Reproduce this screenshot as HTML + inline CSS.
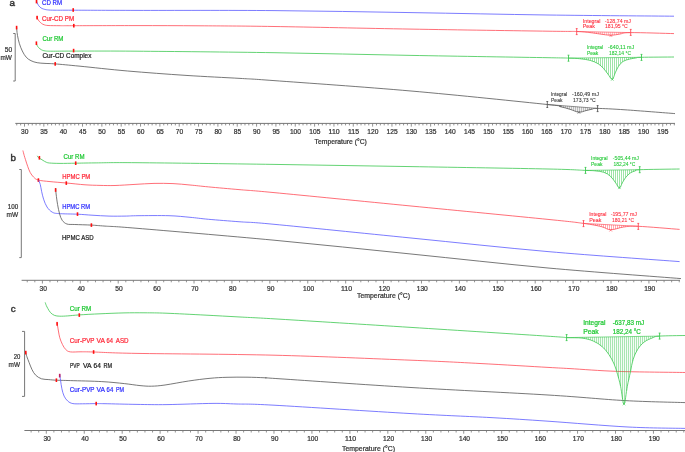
<!DOCTYPE html>
<html><head><meta charset="utf-8"><title>DSC thermograms</title>
<style>
html,body{margin:0;padding:0;background:#fff;}
body{width:685px;height:452px;overflow:hidden;}
svg{display:block;font-family:"Liberation Sans", sans-serif;will-change:transform;}
</style></head>
<body>
<svg width="685" height="452" viewBox="0 0 685 452">
<rect width="685" height="452" fill="#fff"/>
<text x="9.6" y="6.4" font-size="9.8" fill="#333" text-anchor="start" font-weight="normal" stroke="#333" stroke-width="0.45">a</text>
<path d="M13.2,33.5H15.2V81H13.2" stroke="#777" stroke-width="1" fill="none"/>
<text x="12.2" y="52.2" font-size="6.8" fill="#333" text-anchor="end" font-weight="normal" textLength="7.4" lengthAdjust="spacingAndGlyphs" stroke="#333" stroke-width="0.22">50</text>
<text x="11.8" y="60.2" font-size="6.8" fill="#333" text-anchor="end" font-weight="normal" textLength="11.4" lengthAdjust="spacingAndGlyphs" stroke="#333" stroke-width="0.22">mW</text>
<line x1="15.3" y1="123.4" x2="675" y2="123.4" stroke="#777" stroke-width="1"/>
<path d="M16.76,123.4v2 M20.63,123.4v2 M24.5,123.4v3.2 M28.37,123.4v2 M32.24,123.4v2 M36.1,123.4v2 M39.97,123.4v2 M43.84,123.4v3.2 M47.71,123.4v2 M51.58,123.4v2 M55.44,123.4v2 M59.31,123.4v2 M63.18,123.4v3.2 M67.05,123.4v2 M70.92,123.4v2 M74.78,123.4v2 M78.65,123.4v2 M82.52,123.4v3.2 M86.39,123.4v2 M90.26,123.4v2 M94.12,123.4v2 M97.99,123.4v2 M101.86,123.4v3.2 M105.73,123.4v2 M109.6,123.4v2 M113.46,123.4v2 M117.33,123.4v2 M121.2,123.4v3.2 M125.07,123.4v2 M128.94,123.4v2 M132.8,123.4v2 M136.67,123.4v2 M140.54,123.4v3.2 M144.41,123.4v2 M148.28,123.4v2 M152.14,123.4v2 M156.01,123.4v2 M159.88,123.4v3.2 M163.75,123.4v2 M167.62,123.4v2 M171.48,123.4v2 M175.35,123.4v2 M179.22,123.4v3.2 M183.09,123.4v2 M186.96,123.4v2 M190.82,123.4v2 M194.69,123.4v2 M198.56,123.4v3.2 M202.43,123.4v2 M206.3,123.4v2 M210.16,123.4v2 M214.03,123.4v2 M217.9,123.4v3.2 M221.77,123.4v2 M225.64,123.4v2 M229.5,123.4v2 M233.37,123.4v2 M237.24,123.4v3.2 M241.11,123.4v2 M244.98,123.4v2 M248.84,123.4v2 M252.71,123.4v2 M256.58,123.4v3.2 M260.45,123.4v2 M264.32,123.4v2 M268.18,123.4v2 M272.05,123.4v2 M275.92,123.4v3.2 M279.79,123.4v2 M283.66,123.4v2 M287.52,123.4v2 M291.39,123.4v2 M295.26,123.4v3.2 M299.13,123.4v2 M303,123.4v2 M306.86,123.4v2 M310.73,123.4v2 M314.6,123.4v3.2 M318.47,123.4v2 M322.34,123.4v2 M326.2,123.4v2 M330.07,123.4v2 M333.94,123.4v3.2 M337.81,123.4v2 M341.68,123.4v2 M345.54,123.4v2 M349.41,123.4v2 M353.28,123.4v3.2 M357.15,123.4v2 M361.02,123.4v2 M364.88,123.4v2 M368.75,123.4v2 M372.62,123.4v3.2 M376.49,123.4v2 M380.36,123.4v2 M384.22,123.4v2 M388.09,123.4v2 M391.96,123.4v3.2 M395.83,123.4v2 M399.7,123.4v2 M403.56,123.4v2 M407.43,123.4v2 M411.3,123.4v3.2 M415.17,123.4v2 M419.04,123.4v2 M422.9,123.4v2 M426.77,123.4v2 M430.64,123.4v3.2 M434.51,123.4v2 M438.38,123.4v2 M442.24,123.4v2 M446.11,123.4v2 M449.98,123.4v3.2 M453.85,123.4v2 M457.72,123.4v2 M461.58,123.4v2 M465.45,123.4v2 M469.32,123.4v3.2 M473.19,123.4v2 M477.06,123.4v2 M480.92,123.4v2 M484.79,123.4v2 M488.66,123.4v3.2 M492.53,123.4v2 M496.4,123.4v2 M500.26,123.4v2 M504.13,123.4v2 M508,123.4v3.2 M511.87,123.4v2 M515.74,123.4v2 M519.6,123.4v2 M523.47,123.4v2 M527.34,123.4v3.2 M531.21,123.4v2 M535.08,123.4v2 M538.94,123.4v2 M542.81,123.4v2 M546.68,123.4v3.2 M550.55,123.4v2 M554.42,123.4v2 M558.28,123.4v2 M562.15,123.4v2 M566.02,123.4v3.2 M569.89,123.4v2 M573.76,123.4v2 M577.62,123.4v2 M581.49,123.4v2 M585.36,123.4v3.2 M589.23,123.4v2 M593.1,123.4v2 M596.96,123.4v2 M600.83,123.4v2 M604.7,123.4v3.2 M608.57,123.4v2 M612.44,123.4v2 M616.3,123.4v2 M620.17,123.4v2 M624.04,123.4v3.2 M627.91,123.4v2 M631.78,123.4v2 M635.64,123.4v2 M639.51,123.4v2 M643.38,123.4v3.2 M647.25,123.4v2 M651.12,123.4v2 M654.98,123.4v2 M658.85,123.4v2 M662.72,123.4v3.2 M666.59,123.4v2 M670.46,123.4v2 M674.32,123.4v2" stroke="#777" stroke-width="0.8" fill="none"/>
<text x="24.7" y="134.2" font-size="6.8" fill="#333" text-anchor="middle" font-weight="normal" textLength="7.4" lengthAdjust="spacingAndGlyphs" stroke="#333" stroke-width="0.22">30</text>
<text x="44.04" y="134.2" font-size="6.8" fill="#333" text-anchor="middle" font-weight="normal" textLength="7.4" lengthAdjust="spacingAndGlyphs" stroke="#333" stroke-width="0.22">35</text>
<text x="63.38" y="134.2" font-size="6.8" fill="#333" text-anchor="middle" font-weight="normal" textLength="7.4" lengthAdjust="spacingAndGlyphs" stroke="#333" stroke-width="0.22">40</text>
<text x="82.72" y="134.2" font-size="6.8" fill="#333" text-anchor="middle" font-weight="normal" textLength="7.4" lengthAdjust="spacingAndGlyphs" stroke="#333" stroke-width="0.22">45</text>
<text x="102.06" y="134.2" font-size="6.8" fill="#333" text-anchor="middle" font-weight="normal" textLength="7.4" lengthAdjust="spacingAndGlyphs" stroke="#333" stroke-width="0.22">50</text>
<text x="121.4" y="134.2" font-size="6.8" fill="#333" text-anchor="middle" font-weight="normal" textLength="7.4" lengthAdjust="spacingAndGlyphs" stroke="#333" stroke-width="0.22">55</text>
<text x="140.74" y="134.2" font-size="6.8" fill="#333" text-anchor="middle" font-weight="normal" textLength="7.4" lengthAdjust="spacingAndGlyphs" stroke="#333" stroke-width="0.22">60</text>
<text x="160.08" y="134.2" font-size="6.8" fill="#333" text-anchor="middle" font-weight="normal" textLength="7.4" lengthAdjust="spacingAndGlyphs" stroke="#333" stroke-width="0.22">65</text>
<text x="179.42" y="134.2" font-size="6.8" fill="#333" text-anchor="middle" font-weight="normal" textLength="7.4" lengthAdjust="spacingAndGlyphs" stroke="#333" stroke-width="0.22">70</text>
<text x="198.76" y="134.2" font-size="6.8" fill="#333" text-anchor="middle" font-weight="normal" textLength="7.4" lengthAdjust="spacingAndGlyphs" stroke="#333" stroke-width="0.22">75</text>
<text x="218.1" y="134.2" font-size="6.8" fill="#333" text-anchor="middle" font-weight="normal" textLength="7.4" lengthAdjust="spacingAndGlyphs" stroke="#333" stroke-width="0.22">80</text>
<text x="237.44" y="134.2" font-size="6.8" fill="#333" text-anchor="middle" font-weight="normal" textLength="7.4" lengthAdjust="spacingAndGlyphs" stroke="#333" stroke-width="0.22">85</text>
<text x="256.78" y="134.2" font-size="6.8" fill="#333" text-anchor="middle" font-weight="normal" textLength="7.4" lengthAdjust="spacingAndGlyphs" stroke="#333" stroke-width="0.22">90</text>
<text x="276.12" y="134.2" font-size="6.8" fill="#333" text-anchor="middle" font-weight="normal" textLength="7.4" lengthAdjust="spacingAndGlyphs" stroke="#333" stroke-width="0.22">95</text>
<text x="295.46" y="134.2" font-size="6.8" fill="#333" text-anchor="middle" font-weight="normal" textLength="11.1" lengthAdjust="spacingAndGlyphs" stroke="#333" stroke-width="0.22">100</text>
<text x="314.8" y="134.2" font-size="6.8" fill="#333" text-anchor="middle" font-weight="normal" textLength="11.1" lengthAdjust="spacingAndGlyphs" stroke="#333" stroke-width="0.22">105</text>
<text x="334.14" y="134.2" font-size="6.8" fill="#333" text-anchor="middle" font-weight="normal" textLength="11.1" lengthAdjust="spacingAndGlyphs" stroke="#333" stroke-width="0.22">110</text>
<text x="353.48" y="134.2" font-size="6.8" fill="#333" text-anchor="middle" font-weight="normal" textLength="11.1" lengthAdjust="spacingAndGlyphs" stroke="#333" stroke-width="0.22">115</text>
<text x="372.82" y="134.2" font-size="6.8" fill="#333" text-anchor="middle" font-weight="normal" textLength="11.1" lengthAdjust="spacingAndGlyphs" stroke="#333" stroke-width="0.22">120</text>
<text x="392.16" y="134.2" font-size="6.8" fill="#333" text-anchor="middle" font-weight="normal" textLength="11.1" lengthAdjust="spacingAndGlyphs" stroke="#333" stroke-width="0.22">125</text>
<text x="411.5" y="134.2" font-size="6.8" fill="#333" text-anchor="middle" font-weight="normal" textLength="11.1" lengthAdjust="spacingAndGlyphs" stroke="#333" stroke-width="0.22">130</text>
<text x="430.84" y="134.2" font-size="6.8" fill="#333" text-anchor="middle" font-weight="normal" textLength="11.1" lengthAdjust="spacingAndGlyphs" stroke="#333" stroke-width="0.22">135</text>
<text x="450.18" y="134.2" font-size="6.8" fill="#333" text-anchor="middle" font-weight="normal" textLength="11.1" lengthAdjust="spacingAndGlyphs" stroke="#333" stroke-width="0.22">140</text>
<text x="469.52" y="134.2" font-size="6.8" fill="#333" text-anchor="middle" font-weight="normal" textLength="11.1" lengthAdjust="spacingAndGlyphs" stroke="#333" stroke-width="0.22">145</text>
<text x="488.86" y="134.2" font-size="6.8" fill="#333" text-anchor="middle" font-weight="normal" textLength="11.1" lengthAdjust="spacingAndGlyphs" stroke="#333" stroke-width="0.22">150</text>
<text x="508.2" y="134.2" font-size="6.8" fill="#333" text-anchor="middle" font-weight="normal" textLength="11.1" lengthAdjust="spacingAndGlyphs" stroke="#333" stroke-width="0.22">155</text>
<text x="527.54" y="134.2" font-size="6.8" fill="#333" text-anchor="middle" font-weight="normal" textLength="11.1" lengthAdjust="spacingAndGlyphs" stroke="#333" stroke-width="0.22">160</text>
<text x="546.88" y="134.2" font-size="6.8" fill="#333" text-anchor="middle" font-weight="normal" textLength="11.1" lengthAdjust="spacingAndGlyphs" stroke="#333" stroke-width="0.22">165</text>
<text x="566.22" y="134.2" font-size="6.8" fill="#333" text-anchor="middle" font-weight="normal" textLength="11.1" lengthAdjust="spacingAndGlyphs" stroke="#333" stroke-width="0.22">170</text>
<text x="585.56" y="134.2" font-size="6.8" fill="#333" text-anchor="middle" font-weight="normal" textLength="11.1" lengthAdjust="spacingAndGlyphs" stroke="#333" stroke-width="0.22">175</text>
<text x="604.9" y="134.2" font-size="6.8" fill="#333" text-anchor="middle" font-weight="normal" textLength="11.1" lengthAdjust="spacingAndGlyphs" stroke="#333" stroke-width="0.22">180</text>
<text x="624.24" y="134.2" font-size="6.8" fill="#333" text-anchor="middle" font-weight="normal" textLength="11.1" lengthAdjust="spacingAndGlyphs" stroke="#333" stroke-width="0.22">185</text>
<text x="643.58" y="134.2" font-size="6.8" fill="#333" text-anchor="middle" font-weight="normal" textLength="11.1" lengthAdjust="spacingAndGlyphs" stroke="#333" stroke-width="0.22">190</text>
<text x="662.92" y="134.2" font-size="6.8" fill="#333" text-anchor="middle" font-weight="normal" textLength="11.1" lengthAdjust="spacingAndGlyphs" stroke="#333" stroke-width="0.22">195</text>
<text x="314.6" y="143.6" font-size="6.9" fill="#333" text-anchor="start" font-weight="normal" textLength="52.3" lengthAdjust="spacingAndGlyphs" stroke="#333" stroke-width="0.22">Temperature (°C)</text>
<path d="M36.5,-1 C36.57,-0.47 36.52,1.07 36.9,2.2 C37.28,3.33 38.12,4.85 38.8,5.8 C39.48,6.75 40.22,7.37 41,7.9 C41.78,8.43 42.42,8.67 43.5,9 C44.58,9.33 45.58,9.7 47.5,9.9 C49.42,10.1 50.75,10.15 55,10.2 C59.25,10.25 59.33,10.17 73,10.2 C86.67,10.23 103.5,10.33 137,10.4 C170.5,10.47 228.33,10.23 274,10.6 C319.67,10.97 365.33,11.87 411,12.6 C456.67,13.33 504.17,14.4 548,15 C591.83,15.6 653,16 674,16.2" fill="none" stroke="#5a5aff" stroke-width="0.8" stroke-opacity="1" stroke-linejoin="round"/>
<rect x="35.7" y="-0.2" width="1.6" height="3.6" fill="#ff1010"/>
<rect x="72.4" y="8.2" width="1.6" height="3.6" fill="#ff1010"/>
<text x="42" y="4.7" font-size="6.6" fill="#2f2fff" text-anchor="start" font-weight="normal" textLength="20" lengthAdjust="spacingAndGlyphs" stroke="#2f2fff" stroke-width="0.22">CD RM</text>
<path d="M588.7,31.74V32.45 M590.7,31.79V32.68 M592.7,31.83V32.93 M594.7,31.87V33.22 M596.7,31.91V33.53 M598.7,31.95V33.82 M600.7,31.99V34.09 M602.7,32.03V34.39 M604.7,32.07V34.7 M606.7,32.11V34.98 M608.7,32.15V35.2 M610.7,32.19V35.3 M612.7,32.23V35.22 M614.7,32.27V34.95 M616.7,32.31V34.58 M618.7,32.36V34.2 M620.7,32.4V33.88 M622.7,32.44V33.3" stroke="#ff4a56" stroke-width="0.7" stroke-opacity="0.65" fill="none"/>
<line x1="576.7" y1="31.5" x2="630.7" y2="32.6" stroke="#ff4a56" stroke-width="0.8" stroke-opacity="0.8"/>
<path d="M37.1,16.4 C37.18,16.8 37.25,18 37.6,18.8 C37.95,19.6 38.55,20.43 39.2,21.2 C39.85,21.97 40.7,22.82 41.5,23.4 C42.3,23.98 42.92,24.35 44,24.7 C45.08,25.05 45.33,25.33 48,25.5 C50.67,25.67 55.7,25.67 60,25.7 C64.3,25.73 60.97,25.72 73.8,25.7 C86.63,25.68 115.97,25.58 137,25.6 C158.03,25.62 177.17,25.65 200,25.8 C222.83,25.95 238.83,25.95 274,26.5 C309.17,27.05 365.33,28.32 411,29.1 C456.67,29.88 520.38,30.8 548,31.2 C575.62,31.6 569.7,31.27 576.7,31.5 C583.7,31.73 586.12,32.18 590,32.6 C593.88,33.02 596.52,33.55 600,34 C603.48,34.45 607.57,35.3 610.9,35.3 C614.23,35.3 616.7,34.45 620,34 C623.3,33.55 621.7,32.67 630.7,32.6 C639.7,32.53 666.78,33.43 674,33.6" fill="none" stroke="#ff4a56" stroke-width="0.8" stroke-opacity="1" stroke-linejoin="round"/>
<rect x="36.3" y="15.8" width="1.6" height="3.6" fill="#ff1010"/>
<rect x="73" y="23.9" width="1.6" height="3.6" fill="#ff1010"/>
<path d="M576.7,28.6V34.6 M575.8,28.6H577.6 M575.8,34.6H577.6" stroke="#ff4a56" stroke-width="0.9" fill="none"/>
<path d="M630.7,29.4V35.4 M629.8,29.4H631.6 M629.8,35.4H631.6" stroke="#ff4a56" stroke-width="0.9" fill="none"/>
<path d="M609.6,34.3L612.2,36.9M612.2,34.3L609.6,36.9" stroke="#ff4a56" stroke-width="0.6" fill="none"/>
<text x="42" y="21.2" font-size="6.6" fill="#ff2838" text-anchor="start" font-weight="normal" textLength="32.2" lengthAdjust="spacingAndGlyphs" stroke="#ff2838" stroke-width="0.22">Cur-CD PM</text>
<text x="582.8" y="23" font-size="4.9" fill="#ff2838" text-anchor="start" font-weight="normal" textLength="17.6" lengthAdjust="spacingAndGlyphs" stroke="#ff2838" stroke-width="0.08">Integral</text>
<text x="604.8" y="23" font-size="4.9" fill="#ff2838" text-anchor="start" font-weight="normal" textLength="26.2" lengthAdjust="spacingAndGlyphs" stroke="#ff2838" stroke-width="0.08">-128,74 mJ</text>
<text x="582.8" y="28.4" font-size="4.9" fill="#ff2838" text-anchor="start" font-weight="normal" textLength="12.2" lengthAdjust="spacingAndGlyphs" stroke="#ff2838" stroke-width="0.08">Peak</text>
<text x="605" y="28.4" font-size="4.9" fill="#ff2838" text-anchor="start" font-weight="normal" textLength="22.8" lengthAdjust="spacingAndGlyphs" stroke="#ff2838" stroke-width="0.08">181,95 °C</text>
<path d="M580.5,57.97V58.79 M582.5,57.95V59.02 M584.5,57.92V59.28 M586.5,57.9V59.6 M588.5,57.88V59.99 M590.5,57.86V60.48 M592.5,57.84V61.11 M594.5,57.82V61.88 M596.5,57.79V62.81 M598.5,57.77V63.95 M600.5,57.75V65.44 M602.5,57.73V67.35 M604.5,57.71V69.57 M606.5,57.68V72.22 M608.5,57.66V74.88 M610.5,57.64V77.93 M612.5,57.62V79.32 M614.5,57.6V74.75 M616.5,57.57V70.03 M618.5,57.55V66.3 M620.5,57.53V63.69 M622.5,57.51V61.82 M624.5,57.49V60.66 M626.5,57.46V59.93 M628.5,57.44V59.39 M630.5,57.42V58.88 M632.5,57.4V58.48 M634.5,57.38V58.15" stroke="#3cc850" stroke-width="0.7" stroke-opacity="0.7" fill="none"/>
<line x1="568.5" y1="58.1" x2="641.5" y2="57.3" stroke="#3cc850" stroke-width="0.8" stroke-opacity="0.8"/>
<path d="M36.4,42.4 C36.48,42.83 36.53,44.13 36.9,45 C37.27,45.87 37.83,46.8 38.6,47.6 C39.37,48.4 40.43,49.25 41.5,49.8 C42.57,50.35 43.25,50.67 45,50.9 C46.75,51.13 47.23,51.17 52,51.2 C56.77,51.23 59.43,51.1 73.6,51.1 C87.77,51.1 103.6,50.93 137,51.2 C170.4,51.47 228.33,52 274,52.7 C319.67,53.4 365.33,54.57 411,55.4 C456.67,56.23 521.75,57.25 548,57.7 C574.25,58.15 563.22,57.93 568.5,58.1 C573.78,58.27 576.08,58.32 579.7,58.7 C583.32,59.08 587.13,59.57 590.2,60.4 C593.27,61.23 595.9,62.38 598.1,63.7 C600.3,65.02 601.75,66.55 603.4,68.3 C605.05,70.05 606.52,72.35 608,74.2 C609.48,76.05 611.1,79.62 612.3,79.4 C613.5,79.18 614.17,75.08 615.2,72.9 C616.23,70.72 617.18,68.22 618.5,66.3 C619.82,64.38 621.25,62.6 623.1,61.4 C624.95,60.2 627.42,59.68 629.6,59.1 C631.78,58.52 634.22,58.2 636.2,57.9 C638.18,57.6 635.2,57.45 641.5,57.3 C647.8,57.15 668.58,57.05 674,57" fill="none" stroke="#3cc850" stroke-width="0.8" stroke-opacity="1" stroke-linejoin="round"/>
<rect x="35.6" y="41.4" width="1.6" height="3.6" fill="#ff1010"/>
<rect x="72.8" y="48.8" width="1.6" height="3.6" fill="#ff1010"/>
<path d="M568.5,55.2V61.2 M567.6,55.2H569.4 M567.6,61.2H569.4" stroke="#3cc850" stroke-width="0.9" fill="none"/>
<path d="M641.5,54.4V60.4 M640.6,54.4H642.4 M640.6,60.4H642.4" stroke="#3cc850" stroke-width="0.9" fill="none"/>
<path d="M611,78.1L613.6,80.7M613.6,78.1L611,80.7" stroke="#3cc850" stroke-width="0.6" fill="none"/>
<text x="42.4" y="41.2" font-size="6.6" fill="#1ec832" text-anchor="start" font-weight="normal" textLength="21" lengthAdjust="spacingAndGlyphs" stroke="#1ec832" stroke-width="0.22">Cur RM</text>
<text x="586.9" y="48.6" font-size="4.9" fill="#1ec832" text-anchor="start" font-weight="normal" textLength="16.2" lengthAdjust="spacingAndGlyphs" stroke="#1ec832" stroke-width="0.08">Integral</text>
<text x="608" y="48.6" font-size="4.9" fill="#1ec832" text-anchor="start" font-weight="normal" textLength="26.2" lengthAdjust="spacingAndGlyphs" stroke="#1ec832" stroke-width="0.08">-640,11 mJ</text>
<text x="586.9" y="54.7" font-size="4.9" fill="#1ec832" text-anchor="start" font-weight="normal" textLength="11.5" lengthAdjust="spacingAndGlyphs" stroke="#1ec832" stroke-width="0.08">Peak</text>
<text x="608.9" y="54.7" font-size="4.9" fill="#1ec832" text-anchor="start" font-weight="normal" textLength="22.1" lengthAdjust="spacingAndGlyphs" stroke="#1ec832" stroke-width="0.08">182,14 °C</text>
<path d="M563.3,105.74V107.38 M565.3,105.9V107.92 M567.3,106.05V108.5 M569.3,106.21V109.09 M571.3,106.36V109.73 M573.3,106.52V110.49 M575.3,106.67V111.27 M577.3,106.83V111.92 M579.3,106.98V112.22 M581.3,107.14V112.02 M583.3,107.29V111.45 M585.3,107.45V110.79 M587.3,107.6V110.29 M589.3,107.76V109.8 M591.3,107.91V109.34 M593.3,108.07V108.69" stroke="#555555" stroke-width="0.7" stroke-opacity="0.7" fill="none"/>
<line x1="547.3" y1="104.5" x2="597.6" y2="108.4" stroke="#555555" stroke-width="0.8" stroke-opacity="0.8"/>
<path d="M16.5,26.5 C16.55,27.08 16.63,28.5 16.8,30 C16.97,31.5 17.08,33.28 17.5,35.5 C17.92,37.72 18.5,40.72 19.3,43.3 C20.1,45.88 21.15,48.68 22.3,51 C23.45,53.32 24.75,55.58 26.2,57.2 C27.65,58.82 29.17,59.78 31,60.7 C32.83,61.62 34.87,62.25 37.2,62.7 C39.53,63.15 42,63.2 45,63.4 C48,63.6 49.37,63.43 55.2,63.9 C61.03,64.37 67.93,65.02 80,66.2 C92.07,67.38 109.93,69.47 127.6,71 C145.27,72.53 167.27,74.17 186,75.4 C204.73,76.63 225.33,77.53 240,78.4 C254.67,79.27 245.5,78.5 274,80.6 C302.5,82.7 365.45,87.02 411,91 C456.55,94.98 522.47,101.9 547.3,104.5 C572.13,107.1 556.22,105.8 560,106.6 C563.78,107.4 566.85,108.37 570,109.3 C573.15,110.23 576.23,111.98 578.9,112.2 C581.57,112.42 583.82,111.1 586,110.6 C588.18,110.1 590.07,109.57 592,109.2 C593.93,108.83 592.1,108.3 597.6,108.4 C603.1,108.5 612.1,108.93 625,109.8 C637.9,110.67 666.67,112.97 675,113.6" fill="none" stroke="#555555" stroke-width="0.8" stroke-opacity="1" stroke-linejoin="round"/>
<rect x="15.8" y="25.8" width="1.6" height="3.6" fill="#ff1010"/>
<rect x="54.4" y="62.1" width="1.6" height="3.6" fill="#ff1010"/>
<path d="M547.3,101.5V107.5 M546.4,101.5H548.2 M546.4,107.5H548.2" stroke="#555555" stroke-width="0.9" fill="none"/>
<path d="M597.6,105.6V111.6 M596.7,105.6H598.5 M596.7,111.6H598.5" stroke="#555555" stroke-width="0.9" fill="none"/>
<path d="M577.6,111.1L580.2,113.7M580.2,111.1L577.6,113.7" stroke="#555555" stroke-width="0.6" fill="none"/>
<text x="42.4" y="57.6" font-size="6.6" fill="#222" text-anchor="start" font-weight="normal" textLength="49" lengthAdjust="spacingAndGlyphs" stroke="#222" stroke-width="0.22">Cur-CD Complex</text>
<text x="551" y="96.4" font-size="4.9" fill="#333" text-anchor="start" font-weight="normal" textLength="16.2" lengthAdjust="spacingAndGlyphs" stroke="#333" stroke-width="0.08">Integral</text>
<text x="572.1" y="96.4" font-size="4.9" fill="#333" text-anchor="start" font-weight="normal" textLength="26.9" lengthAdjust="spacingAndGlyphs" stroke="#333" stroke-width="0.08">-160,49 mJ</text>
<text x="551" y="102.4" font-size="4.9" fill="#333" text-anchor="start" font-weight="normal" textLength="11.5" lengthAdjust="spacingAndGlyphs" stroke="#333" stroke-width="0.08">Peak</text>
<text x="573" y="102.4" font-size="4.9" fill="#333" text-anchor="start" font-weight="normal" textLength="22.8" lengthAdjust="spacingAndGlyphs" stroke="#333" stroke-width="0.08">173,73 °C</text>
<text x="10.6" y="160.8" font-size="9.8" fill="#333" text-anchor="start" font-weight="normal" stroke="#333" stroke-width="0.45">b</text>
<path d="M19.3,169.5H21.3V257.6H19.3" stroke="#777" stroke-width="1" fill="none"/>
<text x="18.2" y="209.4" font-size="6.8" fill="#333" text-anchor="end" font-weight="normal" textLength="10.4" lengthAdjust="spacingAndGlyphs" stroke="#333" stroke-width="0.22">100</text>
<text x="18.2" y="217" font-size="6.8" fill="#333" text-anchor="end" font-weight="normal" textLength="11.6" lengthAdjust="spacingAndGlyphs" stroke="#333" stroke-width="0.22">mW</text>
<line x1="21.6" y1="280.3" x2="680" y2="280.3" stroke="#777" stroke-width="1"/>
<path d="M27.24,280.3v2 M34.82,280.3v2 M42.4,280.3v3.2 M49.98,280.3v2 M57.56,280.3v2 M65.14,280.3v2 M72.73,280.3v2 M80.31,280.3v3.2 M87.89,280.3v2 M95.47,280.3v2 M103.05,280.3v2 M110.63,280.3v2 M118.21,280.3v3.2 M125.8,280.3v2 M133.38,280.3v2 M140.96,280.3v2 M148.54,280.3v2 M156.12,280.3v3.2 M163.7,280.3v2 M171.28,280.3v2 M178.87,280.3v2 M186.45,280.3v2 M194.03,280.3v3.2 M201.61,280.3v2 M209.19,280.3v2 M216.77,280.3v2 M224.35,280.3v2 M231.94,280.3v3.2 M239.52,280.3v2 M247.1,280.3v2 M254.68,280.3v2 M262.26,280.3v2 M269.84,280.3v3.2 M277.42,280.3v2 M285,280.3v2 M292.59,280.3v2 M300.17,280.3v2 M307.75,280.3v3.2 M315.33,280.3v2 M322.91,280.3v2 M330.49,280.3v2 M338.07,280.3v2 M345.66,280.3v3.2 M353.24,280.3v2 M360.82,280.3v2 M368.4,280.3v2 M375.98,280.3v2 M383.56,280.3v3.2 M391.14,280.3v2 M398.73,280.3v2 M406.31,280.3v2 M413.89,280.3v2 M421.47,280.3v3.2 M429.05,280.3v2 M436.63,280.3v2 M444.21,280.3v2 M451.8,280.3v2 M459.38,280.3v3.2 M466.96,280.3v2 M474.54,280.3v2 M482.12,280.3v2 M489.7,280.3v2 M497.28,280.3v3.2 M504.87,280.3v2 M512.45,280.3v2 M520.03,280.3v2 M527.61,280.3v2 M535.19,280.3v3.2 M542.77,280.3v2 M550.35,280.3v2 M557.94,280.3v2 M565.52,280.3v2 M573.1,280.3v3.2 M580.68,280.3v2 M588.26,280.3v2 M595.84,280.3v2 M603.42,280.3v2 M611,280.3v3.2 M618.59,280.3v2 M626.17,280.3v2 M633.75,280.3v2 M641.33,280.3v2 M648.91,280.3v3.2 M656.49,280.3v2 M664.07,280.3v2 M671.66,280.3v2 M679.24,280.3v2" stroke="#777" stroke-width="0.8" fill="none"/>
<text x="43.2" y="291.2" font-size="6.8" fill="#333" text-anchor="middle" font-weight="normal" textLength="7.4" lengthAdjust="spacingAndGlyphs" stroke="#333" stroke-width="0.22">30</text>
<text x="81.11" y="291.2" font-size="6.8" fill="#333" text-anchor="middle" font-weight="normal" textLength="7.4" lengthAdjust="spacingAndGlyphs" stroke="#333" stroke-width="0.22">40</text>
<text x="119.01" y="291.2" font-size="6.8" fill="#333" text-anchor="middle" font-weight="normal" textLength="7.4" lengthAdjust="spacingAndGlyphs" stroke="#333" stroke-width="0.22">50</text>
<text x="156.92" y="291.2" font-size="6.8" fill="#333" text-anchor="middle" font-weight="normal" textLength="7.4" lengthAdjust="spacingAndGlyphs" stroke="#333" stroke-width="0.22">60</text>
<text x="194.83" y="291.2" font-size="6.8" fill="#333" text-anchor="middle" font-weight="normal" textLength="7.4" lengthAdjust="spacingAndGlyphs" stroke="#333" stroke-width="0.22">70</text>
<text x="232.74" y="291.2" font-size="6.8" fill="#333" text-anchor="middle" font-weight="normal" textLength="7.4" lengthAdjust="spacingAndGlyphs" stroke="#333" stroke-width="0.22">80</text>
<text x="270.64" y="291.2" font-size="6.8" fill="#333" text-anchor="middle" font-weight="normal" textLength="7.4" lengthAdjust="spacingAndGlyphs" stroke="#333" stroke-width="0.22">90</text>
<text x="308.55" y="291.2" font-size="6.8" fill="#333" text-anchor="middle" font-weight="normal" textLength="11.1" lengthAdjust="spacingAndGlyphs" stroke="#333" stroke-width="0.22">100</text>
<text x="346.46" y="291.2" font-size="6.8" fill="#333" text-anchor="middle" font-weight="normal" textLength="11.1" lengthAdjust="spacingAndGlyphs" stroke="#333" stroke-width="0.22">110</text>
<text x="384.36" y="291.2" font-size="6.8" fill="#333" text-anchor="middle" font-weight="normal" textLength="11.1" lengthAdjust="spacingAndGlyphs" stroke="#333" stroke-width="0.22">120</text>
<text x="422.27" y="291.2" font-size="6.8" fill="#333" text-anchor="middle" font-weight="normal" textLength="11.1" lengthAdjust="spacingAndGlyphs" stroke="#333" stroke-width="0.22">130</text>
<text x="460.18" y="291.2" font-size="6.8" fill="#333" text-anchor="middle" font-weight="normal" textLength="11.1" lengthAdjust="spacingAndGlyphs" stroke="#333" stroke-width="0.22">140</text>
<text x="498.08" y="291.2" font-size="6.8" fill="#333" text-anchor="middle" font-weight="normal" textLength="11.1" lengthAdjust="spacingAndGlyphs" stroke="#333" stroke-width="0.22">150</text>
<text x="535.99" y="291.2" font-size="6.8" fill="#333" text-anchor="middle" font-weight="normal" textLength="11.1" lengthAdjust="spacingAndGlyphs" stroke="#333" stroke-width="0.22">160</text>
<text x="573.9" y="291.2" font-size="6.8" fill="#333" text-anchor="middle" font-weight="normal" textLength="11.1" lengthAdjust="spacingAndGlyphs" stroke="#333" stroke-width="0.22">170</text>
<text x="611.8" y="291.2" font-size="6.8" fill="#333" text-anchor="middle" font-weight="normal" textLength="11.1" lengthAdjust="spacingAndGlyphs" stroke="#333" stroke-width="0.22">180</text>
<text x="649.71" y="291.2" font-size="6.8" fill="#333" text-anchor="middle" font-weight="normal" textLength="11.1" lengthAdjust="spacingAndGlyphs" stroke="#333" stroke-width="0.22">190</text>
<text x="357" y="297.9" font-size="6.9" fill="#333" text-anchor="start" font-weight="normal" textLength="53" lengthAdjust="spacingAndGlyphs" stroke="#333" stroke-width="0.22">Temperature (°C)</text>
<path d="M595.5,170.27V170.88 M597.5,170.25V171.09 M599.5,170.22V171.33 M601.5,170.19V171.67 M603.5,170.17V172.17 M605.5,170.14V172.94 M607.5,170.12V174.01 M609.5,170.09V175.45 M611.5,170.06V177.31 M613.5,170.04V179.83 M615.5,170.01V182.63 M617.5,169.99V185.84 M619.5,169.96V187.98 M621.5,169.94V184.59 M623.5,169.91V180.81 M625.5,169.88V177.73 M627.5,169.86V175.4 M629.5,169.83V173.53 M631.5,169.81V172.25 M633.5,169.78V171.44 M635.5,169.75V170.76" stroke="#3cc850" stroke-width="0.7" stroke-opacity="0.7" fill="none"/>
<line x1="585.5" y1="170.4" x2="639.7" y2="169.7" stroke="#3cc850" stroke-width="0.8" stroke-opacity="0.8"/>
<path d="M37.2,155.8 C37.37,156.07 37.65,156.9 38.2,157.4 C38.75,157.9 39.7,158.3 40.5,158.8 C41.3,159.3 42.08,159.85 43,160.4 C43.92,160.95 44.92,161.67 46,162.1 C47.08,162.53 47.17,162.78 49.5,163 C51.83,163.22 55.63,163.37 60,163.4 C64.37,163.43 69.87,163.28 75.7,163.2 C81.53,163.12 84.78,162.98 95,162.9 C105.22,162.82 107.17,162.45 137,162.7 C166.83,162.95 228.33,163.75 274,164.4 C319.67,165.05 365.33,165.83 411,166.6 C456.67,167.37 518.92,168.37 548,169 C577.08,169.63 577.72,170.1 585.5,170.4 C593.28,170.7 591.63,170.48 594.7,170.8 C597.77,171.12 601.27,171.38 603.9,172.3 C606.53,173.22 608.53,174.53 610.5,176.3 C612.47,178.07 614.22,180.95 615.7,182.9 C617.18,184.85 618.3,188 619.4,188 C620.5,188 621.27,184.63 622.3,182.9 C623.33,181.17 624.28,179.25 625.6,177.6 C626.92,175.95 628.57,174.13 630.2,173 C631.83,171.87 633.82,171.35 635.4,170.8 C636.98,170.25 632.33,170 639.7,169.7 C647.07,169.4 672.95,169.12 679.6,169" fill="none" stroke="#3cc850" stroke-width="0.8" stroke-opacity="1" stroke-linejoin="round"/>
<rect x="38.6" y="156" width="1.6" height="3.6" fill="#ff1010"/>
<rect x="74.9" y="161.4" width="1.6" height="3.6" fill="#ff1010"/>
<path d="M585.5,167.4V173.4 M584.6,167.4H586.4 M584.6,173.4H586.4" stroke="#3cc850" stroke-width="0.9" fill="none"/>
<path d="M639.7,166.7V172.7 M638.8,166.7H640.6 M638.8,172.7H640.6" stroke="#3cc850" stroke-width="0.9" fill="none"/>
<path d="M618.1,186.5L620.7,189.1M620.7,186.5L618.1,189.1" stroke="#3cc850" stroke-width="0.6" fill="none"/>
<text x="63.5" y="158.9" font-size="6.6" fill="#1ec832" text-anchor="start" font-weight="normal" textLength="21" lengthAdjust="spacingAndGlyphs" stroke="#1ec832" stroke-width="0.22">Cur RM</text>
<text x="591" y="159.7" font-size="4.9" fill="#1ec832" text-anchor="start" font-weight="normal" textLength="16.6" lengthAdjust="spacingAndGlyphs" stroke="#1ec832" stroke-width="0.08">Integral</text>
<text x="612.8" y="159.7" font-size="4.9" fill="#1ec832" text-anchor="start" font-weight="normal" textLength="26.2" lengthAdjust="spacingAndGlyphs" stroke="#1ec832" stroke-width="0.08">-505,44 mJ</text>
<text x="591" y="166" font-size="4.9" fill="#1ec832" text-anchor="start" font-weight="normal" textLength="11.5" lengthAdjust="spacingAndGlyphs" stroke="#1ec832" stroke-width="0.08">Peak</text>
<text x="613.4" y="166" font-size="4.9" fill="#1ec832" text-anchor="start" font-weight="normal" textLength="22" lengthAdjust="spacingAndGlyphs" stroke="#1ec832" stroke-width="0.08">182,24 °C</text>
<path d="M591.5,223.82V224.6 M593.5,223.93V224.95 M595.5,224.04V225.33 M597.5,224.14V225.74 M599.5,224.25V226.18 M601.5,224.35V226.65 M603.5,224.46V227.28 M605.5,224.56V228.17 M607.5,224.67V229.13 M609.5,224.78V229.7 M611.5,224.88V229.78 M613.5,224.99V229.5 M615.5,225.09V229.02 M617.5,225.2V228.44 M619.5,225.31V227.87 M621.5,225.41V227.37 M623.5,225.52V227.01 M625.5,225.62V226.74 M627.5,225.73V226.46" stroke="#ff4a56" stroke-width="0.7" stroke-opacity="0.65" fill="none"/>
<line x1="583.5" y1="223.4" x2="638.3" y2="226.3" stroke="#ff4a56" stroke-width="0.8" stroke-opacity="0.8"/>
<path d="M22.9,150.5 C23.12,151.33 23.77,153.97 24.2,155.5 C24.63,157.03 24.9,157.83 25.5,159.7 C26.1,161.57 27.02,164.57 27.8,166.7 C28.58,168.83 29.22,170.75 30.2,172.5 C31.18,174.25 32.33,175.93 33.7,177.2 C35.07,178.47 35.68,179.37 38.4,180.1 C41.12,180.83 45.33,181.12 50,181.6 C54.67,182.08 60.57,182.47 66.4,183 C72.23,183.53 79.4,184.4 85,184.8 C90.6,185.2 95,185.28 100,185.4 C105,185.52 109.17,185.67 115,185.5 C120.83,185.33 128.5,184.75 135,184.4 C141.5,184.05 147.67,183.53 154,183.4 C160.33,183.27 167,183.33 173,183.6 C179,183.87 184.07,184.45 190,185 C195.93,185.55 200.27,186.12 208.6,186.9 C216.93,187.68 229.1,188.75 240,189.7 C250.9,190.65 245.5,189.88 274,192.6 C302.5,195.32 365.33,201.53 411,206 C456.67,210.47 519.25,216.5 548,219.4 C576.75,222.3 574.62,222.2 583.5,223.4 C592.38,224.6 596.77,225.53 601.3,226.6 C605.83,227.67 606.98,229.73 610.7,229.8 C614.42,229.87 619,227.58 623.6,227 C628.2,226.42 628.97,225.9 638.3,226.3 C647.63,226.7 672.72,228.88 679.6,229.4" fill="none" stroke="#ff4a56" stroke-width="0.8" stroke-opacity="1" stroke-linejoin="round"/>
<rect x="37.6" y="178.3" width="1.6" height="3.6" fill="#ff1010"/>
<rect x="65.5" y="181.3" width="1.6" height="3.6" fill="#ff1010"/>
<path d="M583.5,220.6V226.6 M582.6,220.6H584.4 M582.6,226.6H584.4" stroke="#ff4a56" stroke-width="0.9" fill="none"/>
<path d="M638.3,223.4V229.4 M637.4,223.4H639.2 M637.4,229.4H639.2" stroke="#ff4a56" stroke-width="0.9" fill="none"/>
<path d="M609.4,228.9L612,231.5M612,228.9L609.4,231.5" stroke="#ff4a56" stroke-width="0.6" fill="none"/>
<text x="62.3" y="178.6" font-size="6.6" fill="#ff2838" text-anchor="start" font-weight="normal" textLength="28" lengthAdjust="spacingAndGlyphs" stroke="#ff2838" stroke-width="0.22">HPMC PM</text>
<text x="589.2" y="216" font-size="4.9" fill="#ff2838" text-anchor="start" font-weight="normal" textLength="17.1" lengthAdjust="spacingAndGlyphs" stroke="#ff2838" stroke-width="0.08">Integral</text>
<text x="610.7" y="216" font-size="4.9" fill="#ff2838" text-anchor="start" font-weight="normal" textLength="26.3" lengthAdjust="spacingAndGlyphs" stroke="#ff2838" stroke-width="0.08">-195,77 mJ</text>
<text x="589.2" y="221.8" font-size="4.9" fill="#ff2838" text-anchor="start" font-weight="normal" textLength="12.2" lengthAdjust="spacingAndGlyphs" stroke="#ff2838" stroke-width="0.08">Peak</text>
<text x="612" y="221.8" font-size="4.9" fill="#ff2838" text-anchor="start" font-weight="normal" textLength="22.1" lengthAdjust="spacingAndGlyphs" stroke="#ff2838" stroke-width="0.08">180,21 °C</text>
<path d="M38.6,180.2 C38.88,180.93 39.8,182.75 40.3,184.6 C40.8,186.45 41.05,188.87 41.6,191.3 C42.15,193.73 42.7,196.58 43.6,199.2 C44.5,201.82 45.55,204.83 47,207 C48.45,209.17 50.32,211.1 52.3,212.2 C54.28,213.3 54.7,213.27 58.9,213.6 C63.1,213.93 71.98,213.93 77.5,214.2 C83.02,214.47 86.75,214.88 92,215.2 C97.25,215.52 103.5,215.95 109,216.1 C114.5,216.25 120.17,216.17 125,216.1 C129.83,216.03 130.67,215.77 138,215.7 C145.33,215.63 160.33,215.43 169,215.7 C177.67,215.97 183.4,216.7 190,217.3 C196.6,217.9 200.27,218.55 208.6,219.3 C216.93,220.05 229.1,220.97 240,221.8 C250.9,222.63 245.5,221.6 274,224.3 C302.5,227 365.33,233.45 411,238 C456.67,242.55 503.23,247.67 548,251.6 C592.77,255.53 657.67,259.93 679.6,261.6" fill="none" stroke="#5a5aff" stroke-width="0.8" stroke-opacity="1" stroke-linejoin="round"/>
<rect x="76.7" y="212.3" width="1.6" height="3.6" fill="#ff1010"/>
<text x="62.2" y="209.2" font-size="6.6" fill="#2f2fff" text-anchor="start" font-weight="normal" textLength="27.9" lengthAdjust="spacingAndGlyphs" stroke="#2f2fff" stroke-width="0.22">HPMC RM</text>
<path d="M55.6,188 C55.68,189 55.77,191.23 56.1,194 C56.43,196.77 57.02,201.28 57.6,204.6 C58.18,207.92 58.83,211.28 59.6,213.9 C60.37,216.52 60.98,218.62 62.2,220.3 C63.42,221.98 64.8,223.3 66.9,224 C69,224.7 70.72,224.32 74.8,224.5 C78.88,224.68 86.37,224.83 91.4,225.1 C96.43,225.37 97.4,225.57 105,226.1 C112.6,226.63 108.83,225.95 137,228.3 C165.17,230.65 228.33,235.92 274,240.2 C319.67,244.48 365.33,249.37 411,254 C456.67,258.63 503,263.9 548,268 C593,272.1 658.83,276.83 681,278.6" fill="none" stroke="#555555" stroke-width="0.8" stroke-opacity="1" stroke-linejoin="round"/>
<rect x="54.8" y="188.2" width="1.6" height="3.6" fill="#ff1010"/>
<rect x="90.6" y="223.3" width="1.6" height="3.6" fill="#ff1010"/>
<text x="62" y="240" font-size="6.6" fill="#222" text-anchor="start" font-weight="normal" textLength="31.6" lengthAdjust="spacingAndGlyphs" stroke="#222" stroke-width="0.22">HPMC ASD</text>
<text x="10.8" y="312" font-size="9.8" fill="#333" text-anchor="start" font-weight="normal" stroke="#333" stroke-width="0.45">c</text>
<path d="M22,331.4H24.6V396.4H22" stroke="#777" stroke-width="1" fill="none"/>
<text x="20.4" y="358.9" font-size="6.8" fill="#333" text-anchor="end" font-weight="normal" textLength="6.6" lengthAdjust="spacingAndGlyphs" stroke="#333" stroke-width="0.22">20</text>
<text x="20" y="366.9" font-size="6.8" fill="#333" text-anchor="end" font-weight="normal" textLength="11.4" lengthAdjust="spacingAndGlyphs" stroke="#333" stroke-width="0.22">mW</text>
<line x1="24.4" y1="430.5" x2="685" y2="430.5" stroke="#777" stroke-width="1"/>
<path d="M31.12,430.5v2 M38.71,430.5v2 M46.3,430.5v3.2 M53.89,430.5v2 M61.48,430.5v2 M69.07,430.5v2 M76.66,430.5v2 M84.25,430.5v3.2 M91.84,430.5v2 M99.43,430.5v2 M107.02,430.5v2 M114.6,430.5v2 M122.19,430.5v3.2 M129.78,430.5v2 M137.37,430.5v2 M144.96,430.5v2 M152.55,430.5v2 M160.14,430.5v3.2 M167.73,430.5v2 M175.32,430.5v2 M182.91,430.5v2 M190.5,430.5v2 M198.09,430.5v3.2 M205.68,430.5v2 M213.27,430.5v2 M220.86,430.5v2 M228.45,430.5v2 M236.04,430.5v3.2 M243.62,430.5v2 M251.21,430.5v2 M258.8,430.5v2 M266.39,430.5v2 M273.98,430.5v3.2 M281.57,430.5v2 M289.16,430.5v2 M296.75,430.5v2 M304.34,430.5v2 M311.93,430.5v3.2 M319.52,430.5v2 M327.11,430.5v2 M334.7,430.5v2 M342.29,430.5v2 M349.88,430.5v3.2 M357.47,430.5v2 M365.05,430.5v2 M372.64,430.5v2 M380.23,430.5v2 M387.82,430.5v3.2 M395.41,430.5v2 M403,430.5v2 M410.59,430.5v2 M418.18,430.5v2 M425.77,430.5v3.2 M433.36,430.5v2 M440.95,430.5v2 M448.54,430.5v2 M456.13,430.5v2 M463.72,430.5v3.2 M471.31,430.5v2 M478.9,430.5v2 M486.49,430.5v2 M494.07,430.5v2 M501.66,430.5v3.2 M509.25,430.5v2 M516.84,430.5v2 M524.43,430.5v2 M532.02,430.5v2 M539.61,430.5v3.2 M547.2,430.5v2 M554.79,430.5v2 M562.38,430.5v2 M569.97,430.5v2 M577.56,430.5v3.2 M585.15,430.5v2 M592.74,430.5v2 M600.33,430.5v2 M607.92,430.5v2 M615.5,430.5v3.2 M623.09,430.5v2 M630.68,430.5v2 M638.27,430.5v2 M645.86,430.5v2 M653.45,430.5v3.2 M661.04,430.5v2 M668.63,430.5v2 M676.22,430.5v2 M683.81,430.5v2" stroke="#777" stroke-width="0.8" fill="none"/>
<text x="47.1" y="441.4" font-size="6.8" fill="#333" text-anchor="middle" font-weight="normal" textLength="7.4" lengthAdjust="spacingAndGlyphs" stroke="#333" stroke-width="0.22">30</text>
<text x="85.05" y="441.4" font-size="6.8" fill="#333" text-anchor="middle" font-weight="normal" textLength="7.4" lengthAdjust="spacingAndGlyphs" stroke="#333" stroke-width="0.22">40</text>
<text x="122.99" y="441.4" font-size="6.8" fill="#333" text-anchor="middle" font-weight="normal" textLength="7.4" lengthAdjust="spacingAndGlyphs" stroke="#333" stroke-width="0.22">50</text>
<text x="160.94" y="441.4" font-size="6.8" fill="#333" text-anchor="middle" font-weight="normal" textLength="7.4" lengthAdjust="spacingAndGlyphs" stroke="#333" stroke-width="0.22">60</text>
<text x="198.89" y="441.4" font-size="6.8" fill="#333" text-anchor="middle" font-weight="normal" textLength="7.4" lengthAdjust="spacingAndGlyphs" stroke="#333" stroke-width="0.22">70</text>
<text x="236.84" y="441.4" font-size="6.8" fill="#333" text-anchor="middle" font-weight="normal" textLength="7.4" lengthAdjust="spacingAndGlyphs" stroke="#333" stroke-width="0.22">80</text>
<text x="274.78" y="441.4" font-size="6.8" fill="#333" text-anchor="middle" font-weight="normal" textLength="7.4" lengthAdjust="spacingAndGlyphs" stroke="#333" stroke-width="0.22">90</text>
<text x="312.73" y="441.4" font-size="6.8" fill="#333" text-anchor="middle" font-weight="normal" textLength="11.1" lengthAdjust="spacingAndGlyphs" stroke="#333" stroke-width="0.22">100</text>
<text x="350.68" y="441.4" font-size="6.8" fill="#333" text-anchor="middle" font-weight="normal" textLength="11.1" lengthAdjust="spacingAndGlyphs" stroke="#333" stroke-width="0.22">110</text>
<text x="388.62" y="441.4" font-size="6.8" fill="#333" text-anchor="middle" font-weight="normal" textLength="11.1" lengthAdjust="spacingAndGlyphs" stroke="#333" stroke-width="0.22">120</text>
<text x="426.57" y="441.4" font-size="6.8" fill="#333" text-anchor="middle" font-weight="normal" textLength="11.1" lengthAdjust="spacingAndGlyphs" stroke="#333" stroke-width="0.22">130</text>
<text x="464.52" y="441.4" font-size="6.8" fill="#333" text-anchor="middle" font-weight="normal" textLength="11.1" lengthAdjust="spacingAndGlyphs" stroke="#333" stroke-width="0.22">140</text>
<text x="502.46" y="441.4" font-size="6.8" fill="#333" text-anchor="middle" font-weight="normal" textLength="11.1" lengthAdjust="spacingAndGlyphs" stroke="#333" stroke-width="0.22">150</text>
<text x="540.41" y="441.4" font-size="6.8" fill="#333" text-anchor="middle" font-weight="normal" textLength="11.1" lengthAdjust="spacingAndGlyphs" stroke="#333" stroke-width="0.22">160</text>
<text x="578.36" y="441.4" font-size="6.8" fill="#333" text-anchor="middle" font-weight="normal" textLength="11.1" lengthAdjust="spacingAndGlyphs" stroke="#333" stroke-width="0.22">170</text>
<text x="616.3" y="441.4" font-size="6.8" fill="#333" text-anchor="middle" font-weight="normal" textLength="11.1" lengthAdjust="spacingAndGlyphs" stroke="#333" stroke-width="0.22">180</text>
<text x="654.25" y="441.4" font-size="6.8" fill="#333" text-anchor="middle" font-weight="normal" textLength="11.1" lengthAdjust="spacingAndGlyphs" stroke="#333" stroke-width="0.22">190</text>
<text x="342" y="450.5" font-size="6.9" fill="#333" text-anchor="start" font-weight="normal" textLength="53" lengthAdjust="spacingAndGlyphs" stroke="#333" stroke-width="0.22">Temperature (°C)</text>
<path d="M57.1,321.8 C57.18,322.5 57.35,324.3 57.6,326 C57.85,327.7 58.23,330.03 58.6,332 C58.97,333.97 59.17,335.73 59.8,337.8 C60.43,339.87 61.4,342.43 62.4,344.4 C63.4,346.37 64.47,348.35 65.8,349.6 C67.13,350.85 67.87,351.53 70.4,351.9 C72.93,352.27 77.13,351.78 81,351.8 C84.87,351.82 84.27,351.73 93.6,352 C102.93,352.27 106.93,352.87 137,353.4 C167.07,353.93 228.33,354.07 274,355.2 C319.67,356.33 376.67,358.82 411,360.2 C445.33,361.58 457.17,362.3 480,363.5 C502.83,364.7 533,366.55 548,367.4 C563,368.25 558.33,367.93 570,368.6 C581.67,369.27 598.83,370.75 618,371.4 C637.17,372.05 673.83,372.32 685,372.5" fill="none" stroke="#ff4a56" stroke-width="0.8" stroke-opacity="1" stroke-linejoin="round"/>
<rect x="56.3" y="322.1" width="1.6" height="3.6" fill="#ff1010"/>
<rect x="92.8" y="350.2" width="1.6" height="3.6" fill="#ff1010"/>
<text x="69.8" y="343.1" font-size="6.6" fill="#ff2838" text-anchor="start" font-weight="normal" textLength="24.7" lengthAdjust="spacingAndGlyphs" stroke="#ff2838" stroke-width="0.22">Cur-PVP</text>
<text x="96.5" y="343.1" font-size="6.6" fill="#ff2838" text-anchor="start" font-weight="normal" textLength="8.4" lengthAdjust="spacingAndGlyphs" stroke="#ff2838" stroke-width="0.22">VA</text>
<text x="106.6" y="343.1" font-size="6.6" fill="#ff2838" text-anchor="start" font-weight="normal" textLength="6.4" lengthAdjust="spacingAndGlyphs" stroke="#ff2838" stroke-width="0.22">64</text>
<text x="115.8" y="343.1" font-size="6.6" fill="#ff2838" text-anchor="start" font-weight="normal" textLength="12.8" lengthAdjust="spacingAndGlyphs" stroke="#ff2838" stroke-width="0.22">ASD</text>
<path d="M25.4,351.5 C25.65,352.37 26.28,354.87 26.9,356.7 C27.52,358.53 28.25,360.35 29.1,362.5 C29.95,364.65 30.9,367.48 32,369.6 C33.1,371.72 34.12,373.67 35.7,375.2 C37.28,376.73 39.32,378.07 41.5,378.8 C43.68,379.53 46.32,379.37 48.8,379.6 C51.28,379.83 52.75,380.03 56.4,380.2 C60.05,380.37 63.13,380.37 70.7,380.6 C78.27,380.83 92.87,381.1 101.8,381.6 C110.73,382.1 117.93,382.93 124.3,383.6 C130.67,384.27 135.45,385.17 140,385.6 C144.55,386.03 147.43,386.3 151.6,386.2 C155.77,386.1 158.83,385.87 165,385 C171.17,384.13 181.1,382.12 188.6,381 C196.1,379.88 203.6,378.92 210,378.3 C216.4,377.68 220.83,377.48 227,377.3 C233.17,377.12 240.67,377.12 247,377.2 C253.33,377.28 259.5,377.53 265,377.8 C270.5,378.07 255.67,377.18 280,378.8 C304.33,380.42 366.33,384.8 411,387.5 C455.67,390.2 512.33,392.82 548,395 C583.67,397.18 602.17,399.33 625,400.6 C647.83,401.87 675,402.27 685,402.6" fill="none" stroke="#555555" stroke-width="0.8" stroke-opacity="1" stroke-linejoin="round"/>
<rect x="25" y="350.8" width="1.6" height="3.6" fill="#ff1010"/>
<rect x="55.6" y="378.4" width="1.6" height="3.6" fill="#ff1010"/>
<text x="70" y="367.6" font-size="6.6" fill="#222" text-anchor="start" font-weight="normal" textLength="9.6" lengthAdjust="spacingAndGlyphs" stroke="#222" stroke-width="0.22">PVP</text>
<text x="82.9" y="367.6" font-size="6.6" fill="#222" text-anchor="start" font-weight="normal" textLength="8.7" lengthAdjust="spacingAndGlyphs" stroke="#222" stroke-width="0.22">VA</text>
<text x="93.6" y="367.6" font-size="6.6" fill="#222" text-anchor="start" font-weight="normal" textLength="7.3" lengthAdjust="spacingAndGlyphs" stroke="#222" stroke-width="0.22">64</text>
<text x="103.5" y="367.6" font-size="6.6" fill="#222" text-anchor="start" font-weight="normal" textLength="8.6" lengthAdjust="spacingAndGlyphs" stroke="#222" stroke-width="0.22">RM</text>
<path d="M59.7,374 C59.83,375 60.13,377.53 60.5,380 C60.87,382.47 61.3,386.12 61.9,388.8 C62.5,391.48 63.12,394.05 64.1,396.1 C65.08,398.15 66.33,399.85 67.8,401.1 C69.27,402.35 70.47,403.15 72.9,403.6 C75.33,404.05 78.52,403.8 82.4,403.8 C86.28,403.8 92.43,403.62 96.2,403.6 C99.97,403.58 98.2,403.57 105,403.7 C111.8,403.83 126.67,404.25 137,404.4 C147.33,404.55 154.33,404.77 167,404.6 C179.67,404.43 201.33,403.5 213,403.4 C224.67,403.3 226.83,403.7 237,404 C247.17,404.3 245,403.6 274,405.2 C303,406.8 374.83,411.53 411,413.6 C447.17,415.67 468.17,416.33 491,417.6 C513.83,418.87 525.17,419.63 548,421.2 C570.83,422.77 605.17,425.8 628,427 C650.83,428.2 675.5,428.17 685,428.4" fill="none" stroke="#5a5aff" stroke-width="0.8" stroke-opacity="1" stroke-linejoin="round"/>
<rect x="58.9" y="373.8" width="1.6" height="3.6" fill="#c02060"/>
<rect x="95.4" y="401.8" width="1.6" height="3.6" fill="#ff1010"/>
<text x="69.8" y="392.4" font-size="6.6" fill="#2f2fff" text-anchor="start" font-weight="normal" textLength="24.7" lengthAdjust="spacingAndGlyphs" stroke="#2f2fff" stroke-width="0.22">Cur-PVP</text>
<text x="96.4" y="392.4" font-size="6.6" fill="#2f2fff" text-anchor="start" font-weight="normal" textLength="8.5" lengthAdjust="spacingAndGlyphs" stroke="#2f2fff" stroke-width="0.22">VA</text>
<text x="106.6" y="392.4" font-size="6.6" fill="#2f2fff" text-anchor="start" font-weight="normal" textLength="6.6" lengthAdjust="spacingAndGlyphs" stroke="#2f2fff" stroke-width="0.22">64</text>
<text x="116" y="392.4" font-size="6.6" fill="#2f2fff" text-anchor="start" font-weight="normal" textLength="8.1" lengthAdjust="spacingAndGlyphs" stroke="#2f2fff" stroke-width="0.22">PM</text>
<path d="M582.6,337.34V338.17 M584.6,337.31V338.48 M586.6,337.28V338.88 M588.6,337.25V339.38 M590.6,337.21V340.01 M592.6,337.18V340.75 M594.6,337.15V341.63 M596.6,337.12V342.68 M598.6,337.08V343.92 M600.6,337.05V345.36 M602.6,337.02V347.03 M604.6,336.99V349 M606.6,336.95V351.34 M608.6,336.92V354.06 M610.6,336.89V357.19 M612.6,336.86V360.83 M614.6,336.83V365.14 M616.6,336.79V371.07 M618.6,336.76V378.09 M620.6,336.73V386.3 M622.6,336.7V399.13 M624.6,336.66V403.09 M626.6,336.63V390.6 M628.6,336.6V380.12 M630.6,336.57V371.04 M632.6,336.54V361.18 M634.6,336.5V355.34 M636.6,336.47V351.15 M638.6,336.44V348 M640.6,336.41V345.46 M642.6,336.37V343.38 M644.6,336.34V341.73 M646.6,336.31V340.48 M648.6,336.28V339.47 M650.6,336.25V338.61 M652.6,336.21V337.82 M654.6,336.18V336.92" stroke="#3cc850" stroke-width="0.7" stroke-opacity="0.7" fill="none"/>
<line x1="566.6" y1="337.6" x2="659.6" y2="336.1" stroke="#3cc850" stroke-width="0.8" stroke-opacity="0.8"/>
<path d="M45.2,302.4 C45.38,302.92 45.85,304.47 46.3,305.5 C46.75,306.53 47.2,307.42 47.9,308.6 C48.6,309.78 49.4,311.47 50.5,312.6 C51.6,313.73 52.95,314.8 54.5,315.4 C56.05,316 57.6,316.12 59.8,316.2 C62,316.28 64.45,316.12 67.7,315.9 C70.95,315.68 73.92,315.25 79.3,314.9 C84.68,314.55 92.55,314.13 100,313.8 C107.45,313.47 116.5,313.07 124,312.9 C131.5,312.73 138,312.75 145,312.8 C152,312.85 156,312.82 166,313.2 C176,313.58 192.67,314.47 205,315.1 C217.33,315.73 227.5,316.32 240,317 C252.5,317.68 251.5,317.47 280,319.2 C308.5,320.93 366.33,324.57 411,327.4 C455.67,330.23 522.07,334.5 548,336.2 C573.93,337.9 560.92,337.28 566.6,337.6 C572.28,337.92 577.67,337.53 582.1,338.1 C586.53,338.67 589.88,339.6 593.2,341 C596.52,342.4 599.42,344.3 602,346.5 C604.58,348.7 606.67,351.25 608.7,354.2 C610.73,357.15 612.73,360.87 614.2,364.2 C615.67,367.53 616.43,370.52 617.5,374.2 C618.57,377.88 619.52,381.3 620.6,386.3 C621.68,391.3 622.88,404.2 624,404.2 C625.12,404.2 626.23,391.67 627.3,386.3 C628.37,380.93 629.45,376.42 630.4,372 C631.35,367.58 631.83,363.5 633,359.8 C634.17,356.1 635.55,352.75 637.4,349.8 C639.25,346.85 641.52,344.12 644.1,342.1 C646.68,340.08 650.32,338.7 652.9,337.7 C655.48,336.7 654.25,336.47 659.6,336.1 C664.95,335.73 680.77,335.6 685,335.5" fill="none" stroke="#3cc850" stroke-width="0.8" stroke-opacity="1" stroke-linejoin="round"/>
<rect x="78.5" y="313.3" width="1.6" height="3.6" fill="#ff1010"/>
<path d="M566.6,334.6V340.6 M565.7,334.6H567.5 M565.7,340.6H567.5" stroke="#3cc850" stroke-width="0.9" fill="none"/>
<path d="M659.6,333.1V339.1 M658.7,333.1H660.5 M658.7,339.1H660.5" stroke="#3cc850" stroke-width="0.9" fill="none"/>
<path d="M622.7,402.7L625.3,405.3M625.3,402.7L622.7,405.3" stroke="#3cc850" stroke-width="0.6" fill="none"/>
<text x="69.7" y="310.9" font-size="6.6" fill="#1ec832" text-anchor="start" font-weight="normal" textLength="21.5" lengthAdjust="spacingAndGlyphs" stroke="#1ec832" stroke-width="0.22">Cur RM</text>
<text x="583.2" y="325" font-size="6.8" fill="#1ec832" text-anchor="start" font-weight="normal" textLength="22.2" lengthAdjust="spacingAndGlyphs" stroke="#1ec832" stroke-width="0.22">Integral</text>
<text x="612.7" y="325" font-size="6.8" fill="#1ec832" text-anchor="start" font-weight="normal" textLength="31.4" lengthAdjust="spacingAndGlyphs" stroke="#1ec832" stroke-width="0.22">-637,83 mJ</text>
<text x="583.2" y="333.5" font-size="6.8" fill="#1ec832" text-anchor="start" font-weight="normal" textLength="15.6" lengthAdjust="spacingAndGlyphs" stroke="#1ec832" stroke-width="0.22">Peak</text>
<text x="612.7" y="333.5" font-size="6.8" fill="#1ec832" text-anchor="start" font-weight="normal" textLength="28.1" lengthAdjust="spacingAndGlyphs" stroke="#1ec832" stroke-width="0.22">182,24 °C</text>
</svg>
</body></html>
